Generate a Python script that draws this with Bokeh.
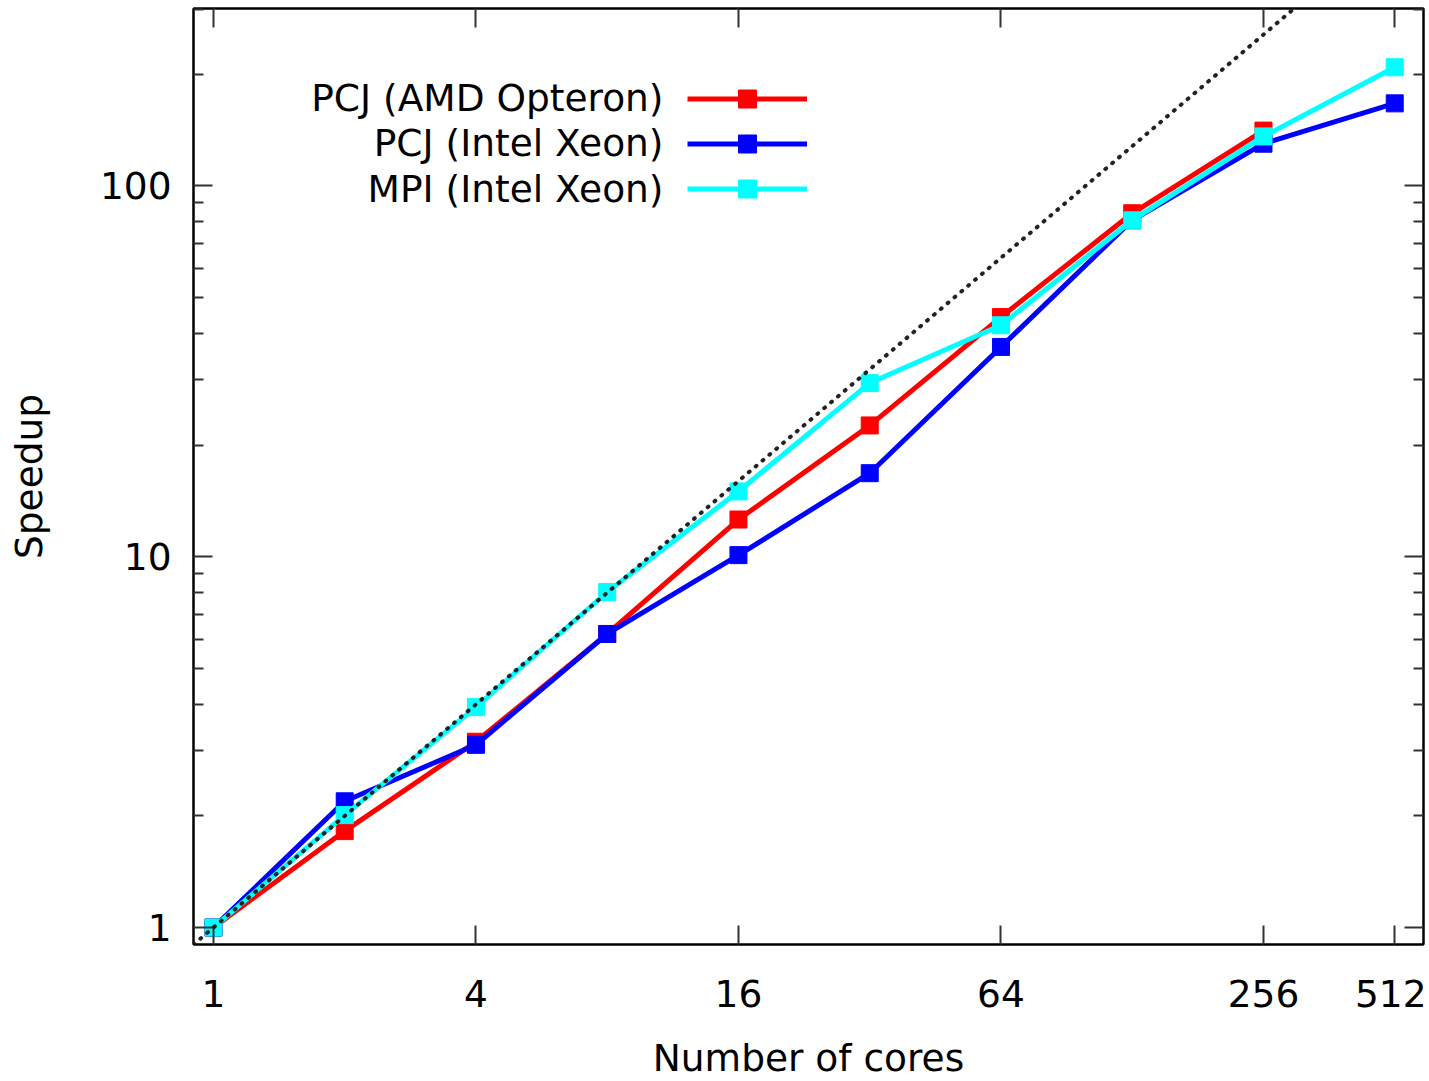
from bokeh.plotting import figure
from bokeh.models import (FixedTicker, LogAxis, Legend, LegendItem, Label, Slope,
                          Range1d, Title)
from bokeh.embed import file_html
from bokeh.resources import INLINE

cores = [1, 2, 4, 8, 16, 32, 64, 128, 256, 512]
pcj_amd = [1, 1.82, 3.17, 6.19, 12.6, 22.6, 44.3, 84.4, 141]
pcj_intel = [1, 2.19, 3.11, 6.19, 10.1, 16.8, 36.8, 80.8, 130, 167]
mpi_intel = [1, 2.01, 3.93, 8.03, 15.0, 29.4, 42.1, 80.8, 136, 209]

series_names = ["PCJ (AMD Opteron)", "PCJ (Intel Xeon)", "MPI (Intel Xeon)"]
series_colors = ["#ff0000", "#0000ff", "#00ffff"]

x_ticks = [1, 4, 16, 64, 256, 512]
y_ticks = [1, 10, 100]
y_minor = [2, 3, 4, 5, 6, 7, 8, 9, 20, 30, 40, 50, 60, 70, 80, 90, 200, 300]

FONT = "DejaVu Sans"
FS = "37.5px"

p = figure(width=1426, height=1080, x_axis_type="log", y_axis_type="log",
           x_range=Range1d(0.9, 596), y_range=Range1d(0.9, 301),
           output_backend="svg", toolbar_location=None,
           min_border_left=193, min_border_right=3, min_border_top=8,
           min_border_bottom=136)
p.grid.visible = False
p.outline_line_color = "black"
p.outline_line_width = 2
p.background_fill_color = "white"

# ideal speedup line
p.add_layout(Slope(gradient=1, y_intercept=0, line_color="#222222", line_width=4,
                   line_dash="1 8", line_cap="round"))

data = [pcj_amd, pcj_intel, mpi_intel]
items = []
for name, col, ys in zip(series_names, series_colors, data):
    xs = cores[:len(ys)]
    r1 = p.line(xs, ys, line_color=col, line_width=5)
    r2 = p.scatter(xs, ys, marker="square", size=17, fill_color=col, line_color=col)
    items.append(LegendItem(label=" ", renderers=[r1, r2]))

def style_axis(ax, show_labels=True, minor=True):
    ax.axis_line_color = "black"
    ax.axis_line_width = 2
    ax.major_tick_in = 19
    ax.major_tick_out = 0
    ax.major_tick_line_width = 2
    ax.major_tick_line_color = "#333333"
    if minor:
        ax.minor_tick_in = 10
        ax.minor_tick_out = 0
        ax.minor_tick_line_width = 2
        ax.minor_tick_line_color = "#333333"
    else:
        ax.minor_tick_line_color = None
    ax.major_label_text_font = FONT
    ax.major_label_text_font_size = FS
    ax.major_label_text_color = "black" if show_labels else None
    ax.axis_label_text_font = FONT
    ax.axis_label_text_font_size = FS
    ax.axis_label_text_font_style = "normal"
    ax.axis_label_text_color = "black"

xa = p.xaxis[0]
xa.ticker = FixedTicker(ticks=x_ticks)
xa.major_label_overrides = {t: str(t) for t in x_ticks}
style_axis(xa, minor=False)
xa.major_label_standoff = 35
# blank spacer label to push the below title down
xa.axis_label = " "
xa.axis_label_text_font_size = "1px"
xa.axis_label_standoff = 20

# x-axis title as a below-panel title
p.add_layout(Title(text="Number of cores", align="center", standoff=0,
                   text_font=FONT, text_font_size=FS, text_font_style="normal",
                   text_color="black"), "below")

ya = p.yaxis[0]
ya.ticker = FixedTicker(ticks=y_ticks, minor_ticks=y_minor)
ya.major_label_overrides = {t: str(t) for t in y_ticks}
ya.axis_label = "Speedup"
style_axis(ya)
ya.major_label_standoff = 22
ya.axis_label_standoff = 46

top = LogAxis(ticker=FixedTicker(ticks=x_ticks))
style_axis(top, show_labels=False, minor=False)
top.major_label_text_font_size = "0px"
p.add_layout(top, "above")

right = LogAxis(ticker=FixedTicker(ticks=y_ticks, minor_ticks=y_minor))
style_axis(right, show_labels=False)
right.major_label_text_font_size = "0px"
p.add_layout(right, "right")

legend = Legend(items=items, location=(494, 733), glyph_width=120, glyph_height=45,
                label_width=0, label_standoff=0, padding=0, spacing=0, margin=0,
                border_line_color=None, background_fill_alpha=0,
                label_text_font_size="1px")
p.add_layout(legend, "center")

row_y = [847, 801.5, 756]
for name, yy in zip(series_names, row_y):
    p.add_layout(Label(x=470, y=yy, x_units="screen", y_units="screen", text=name,
                       text_align="right", text_baseline="middle",
                       text_font=FONT, text_font_size=FS, text_color="black"))

open("out.html", "w").write(file_html(p, INLINE))
